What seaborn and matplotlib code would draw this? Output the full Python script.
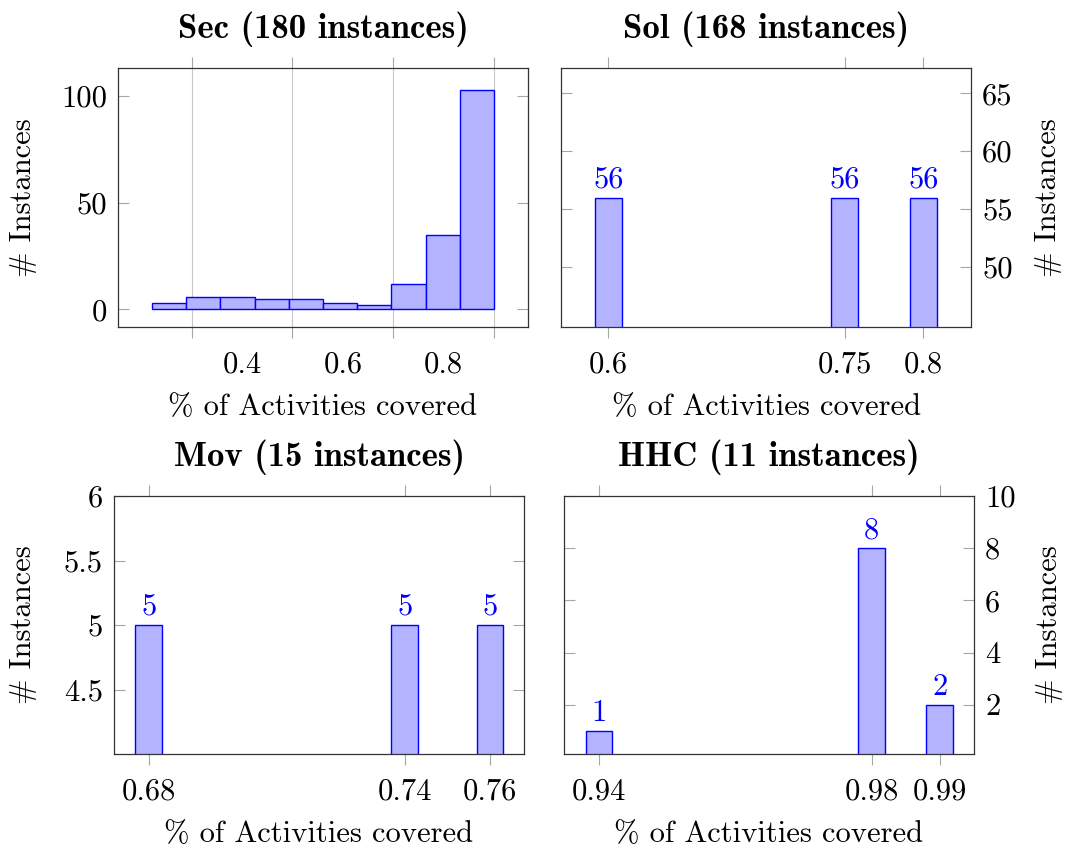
import numpy as np
import pandas as pd
import matplotlib
matplotlib.use("Agg")
import matplotlib.pyplot as plt
import seaborn as sns

# ---- data -------------------------------------------------------------
sec_counts = [3, 6, 6, 5, 5, 3, 2, 12, 35, 103]
sec_range = (0.321, 1.0)

sol_x = [0.6, 0.75, 0.8]
sol_n = [56, 56, 56]

mov_x = [0.68, 0.74, 0.76]
mov_n = [5, 5, 5]

hhc_x = [0.94, 0.98, 0.99]
hhc_n = [1, 8, 2]

titles = ["Sec (180 instances)", "Sol (168 instances)",
          "Mov (15 instances)", "HHC (11 instances)"]
xlabel = "% of Activities covered"
ylabel = "# Instances"

# ---- style ------------------------------------------------------------
sns.set_style("white")
plt.rcParams["font.family"] = ["cmr10", "DejaVu Serif"]
plt.rcParams["axes.formatter.use_mathtext"] = True
plt.rcParams["text.color"] = "black"
plt.rcParams["axes.labelcolor"] = "black"
plt.rcParams["xtick.labelcolor"] = "black"
plt.rcParams["ytick.labelcolor"] = "black"

FILL = "#b3b3ff"
EDGE = "#0000ff"
TICK = "#a6a6a6"
FS = 22

fig = plt.figure(figsize=(10.71, 8.5), dpi=100)
W, H = 1071, 850


def add_axes(x0, y0, x1, y1):
    return fig.add_axes([x0 / W, 1 - y1 / H, (x1 - x0) / W, (y1 - y0) / H])


ax_sec = add_axes(118, 68, 528, 327)
ax_sol = add_axes(561, 68, 971, 327)
ax_mov = add_axes(114, 496, 524, 754)
ax_hhc = add_axes(564, 496, 974, 754)


def style_axes(ax, right=False):
    for s in ax.spines.values():
        s.set_color("#333333")
        s.set_linewidth(0.9)
    ax.tick_params(axis="x", which="major", direction="out", length=8,
                   width=0.8, color=TICK, top=True, bottom=True,
                   labelsize=FS, pad=9, labelcolor="black")
    ax.tick_params(axis="y", which="major", direction="in", length=8,
                   width=0.8, color=TICK, left=True, right=True,
                   labelsize=FS, pad=8, labelcolor="black",
                   labelleft=not right, labelright=right)
    ax.set_xlabel(xlabel, fontsize=FS, color="black")
    ax.set_ylabel(ylabel, fontsize=FS, color="black")
    if right:
        ax.yaxis.set_label_position("right")


def title(ax, text):
    ax.set_title(text, fontsize=25, family="cmb10", y=1.115, pad=0,
                 color="black")


# ---- Sec: histogram ---------------------------------------------------
edges = np.linspace(sec_range[0], sec_range[1], len(sec_counts) + 1)
sec_df = pd.DataFrame({"coverage": (edges[:-1] + edges[1:]) / 2,
                       "count": sec_counts})
sns.histplot(data=sec_df, x="coverage", weights="count", bins=list(edges),
             ax=ax_sec, color=FILL, edgecolor=EDGE, linewidth=1.0, alpha=1)
style_axes(ax_sec)
ax_sec.set_xlim(0.2536, 1.0676)
ax_sec.set_ylim(-8.25, 113.1)
ax_sec.set_yticks([0, 50, 100])
ax_sec.set_yticklabels(["0", "50", "100"])
# interval-style labels: grid/ticks at boundaries, labels centred between
ax_sec.set_xticks([0.4, 0.6, 0.8, 1.0])
ax_sec.set_xticklabels([])
ax_sec.set_xticks([0.5, 0.7, 0.9], minor=True)
ax_sec.set_xticklabels(["0.4", "0.6", "0.8"], minor=True)
ax_sec.tick_params(axis="x", which="minor", length=0, labelsize=FS,
                   pad=17, top=False, labelcolor="black")
ax_sec.grid(True, axis="x", which="major", color="#c8c8c8", linewidth=0.8)
ax_sec.set_axisbelow(True)
title(ax_sec, titles[0])


# ---- bar panels -------------------------------------------------------
def bar_panel(ax, xs, ns, width, right, xlim, ylim, yticks, yticklabels,
              xticklabels):
    df = pd.DataFrame({"coverage": xs, "instances": ns})
    sns.barplot(data=df, x="coverage", y="instances", native_scale=True,
                width=width, ax=ax, color=FILL, edgecolor=EDGE,
                linewidth=1.0, saturation=1, errorbar=None)
    style_axes(ax, right=right)
    ax.set_xlim(*xlim)
    ax.set_ylim(*ylim)
    ax.set_xticks(xs)
    ax.set_xticklabels(xticklabels)
    ax.set_yticks(yticks)
    ax.set_yticklabels(yticklabels)
    for c in ax.containers:
        ax.bar_label(c, labels=[str(v) for v in ns], color=EDGE,
                     fontsize=FS, padding=3)


bar_panel(ax_sol, sol_x, sol_n, 0.343, True, (0.57, 0.8303), (44.81, 67.19),
          [50, 55, 60, 65], ["50", "55", "60", "65"],
          ["0.6", "0.75", "0.8"])
title(ax_sol, titles[1])

bar_panel(ax_mov, mov_x, mov_n, 0.3125, False, (0.67187, 0.76797), (4.0, 6.0),
          [4.5, 5, 5.5, 6], ["4.5", "5", "5.5", "6"],
          ["0.68", "0.74", "0.76"])
title(ax_mov, titles[2])

bar_panel(ax_hhc, hhc_x, hhc_n, 0.392, True, (0.93486, 0.99504), (0.11, 10.0),
          [2, 4, 6, 8, 10], ["2", "4", "6", "8", "10"],
          ["0.94", "0.98", "0.99"])
title(ax_hhc, titles[3])

# axis label placement
ax_sec.yaxis.set_label_coords(-0.198, 0.5)
ax_mov.yaxis.set_label_coords(-0.188, 0.5)
ax_sol.yaxis.set_label_coords(1.154, 0.5)
ax_hhc.yaxis.set_label_coords(1.150, 0.5)
for ax in (ax_sec, ax_sol, ax_mov, ax_hhc):
    ax.xaxis.set_label_coords(0.5, -0.258)

fig.savefig("out.png", dpi=100)
